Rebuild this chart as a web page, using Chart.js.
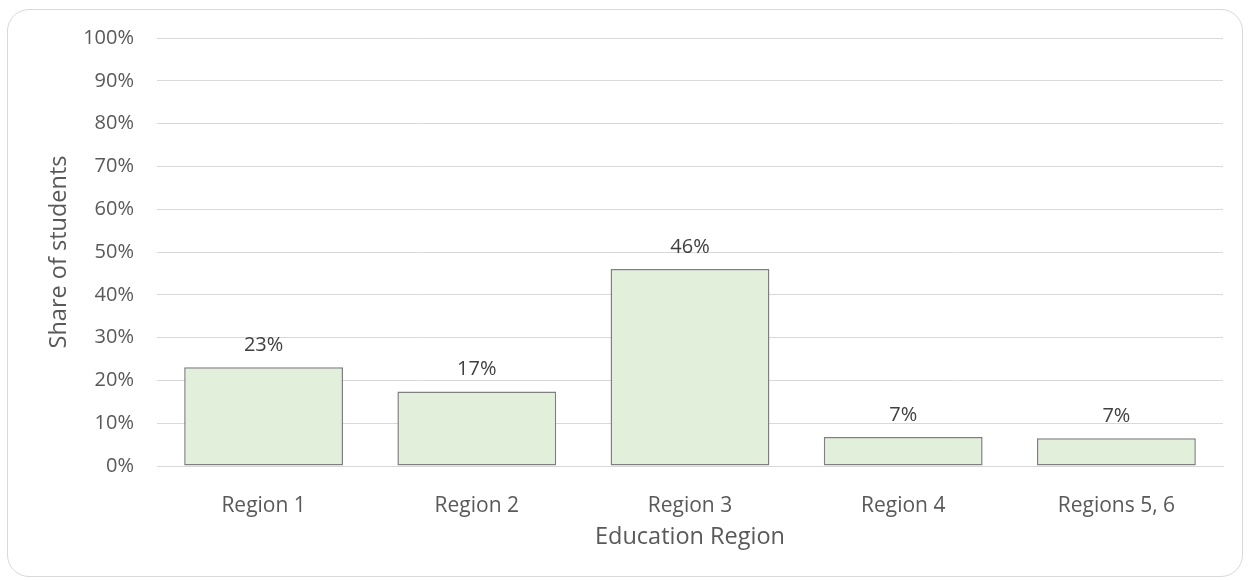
<!DOCTYPE html>
<html>
<head>
<meta charset="utf-8">
<script src="https://cdn.jsdelivr.net/npm/chart.js@4.4.0/dist/chart.umd.min.js"></script>
<style>
  body { margin: 0; background: #fff; }
  #wrap { position: relative; width: 1250px; height: 580px; }
  #frame {
    position: absolute; left: 7px; top: 9px; width: 1234px; height: 566px;
    border: 1.5px solid #d9d9d9; border-radius: 22px;
  }
  #myChart { position: absolute; left: 0; top: 0; }
</style>
</head>
<body>
<div id="wrap">
  <div id="frame"></div>
  <canvas id="myChart" width="1250" height="580"></canvas>
</div>
<script>
const regions = ["Region 1", "Region 2", "Region 3", "Region 4", "Regions 5, 6"];
const shares = [23.1, 17.4, 46.0, 6.8, 6.5];
const yTicks = [0, 10, 20, 30, 40, 50, 60, 70, 80, 90, 100];

const font = "Open Sans";

// value labels above the bars
const barLabels = {
  id: "barLabels",
  afterDatasetsDraw(chart) {
    const ctx = chart.ctx;
    ctx.save();
    ctx.font = "20px '" + font + "'";
    ctx.fillStyle = "#404040";
    ctx.textAlign = "center";
    ctx.textBaseline = "bottom";
    chart.getDatasetMeta(0).data.forEach((bar, i) => {
      ctx.fillText(Math.round(shares[i]) + "%", bar.x, bar.y - 12);
    });
    ctx.restore();
  },
};

new Chart(document.getElementById("myChart"), {
  type: "bar",
  data: {
    labels: regions,
    datasets: [
      {
        data: shares,
        backgroundColor: "#e2efda",
        borderColor: "#7f7f7f",
        borderWidth: 1.5,
        borderSkipped: false,
        categoryPercentage: 1,
        barPercentage: 0.745,
      },
    ],
  },
  options: {
    responsive: false,
    animation: false,
    layout: { padding: { left: 45, right: 27, top: 38, bottom: 29 } },
    scales: {
      y: {
        min: 0,
        max: 100,
        afterBuildTicks: (axis) => {
          axis.ticks = yTicks.map((v) => ({ value: v }));
        },
        // fixed axis sizes so the plot area sits where the original has it
        afterFit: (axis) => {
          axis.width = 112;
        },
        border: { display: false },
        grid: { color: "#d9d9d9", drawTicks: false },
        ticks: {
          padding: 23,
          color: "#595959",
          font: { family: font, size: 20 },
          callback: (v) => v + "%",
        },
        title: {
          display: true,
          text: "Share of students",
          color: "#595959",
          font: { family: font, size: 23.5 },
          padding: { top: 0, bottom: 9 },
        },
      },
      x: {
        afterFit: (axis) => {
          axis.height = 85;
        },
        border: { display: true, color: "#d9d9d9" },
        grid: { display: false, drawTicks: false },
        ticks: {
          padding: 27,
          color: "#595959",
          font: { family: font, size: 21 },
        },
        title: {
          display: true,
          text: "Education Region",
          color: "#595959",
          font: { family: font, size: 23.5 },
          padding: { top: 6, bottom: 0 },
        },
      },
    },
    plugins: {
      legend: { display: false },
      tooltip: { enabled: false },
    },
  },
  plugins: [barLabels],
});
</script>
</body>
</html>
